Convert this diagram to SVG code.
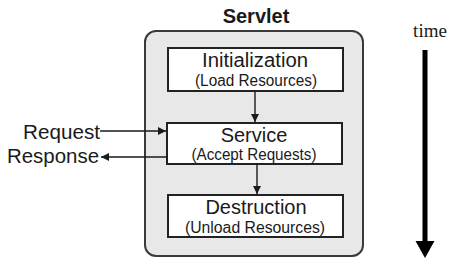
<svg xmlns="http://www.w3.org/2000/svg" width="451" height="273" viewBox="0 0 451 273">
<style>
.box{fill:#fff;stroke:#222;stroke-width:2}
.t{font-family:"Liberation Sans",Arial,sans-serif;fill:#1a1a1a;text-anchor:middle}
.big{font-size:20px}
.small{font-size:16px}
.ln{stroke:#1a1a1a;stroke-width:1.4;fill:none}
</style>
<defs>
<marker id="ah" markerWidth="9" markerHeight="9" refX="8" refY="4.5" orient="auto" markerUnits="userSpaceOnUse">
<path d="M0,0.5 L8,4.5 L0,8.5 Z" fill="#1a1a1a"/>
</marker>
</defs>
<g id="servlet">
<rect x="145" y="31" width="218" height="225" rx="11" fill="#e8e8e8" stroke="#3a3a3a" stroke-width="2"/>
<text class="t" x="256" y="23" font-size="20" font-weight="bold">Servlet</text>
</g>
<g id="init">
<rect class="box" x="168" y="48" width="175" height="43"/>
<text class="t big" x="255" y="67" textLength="106" lengthAdjust="spacingAndGlyphs">Initialization</text>
<text class="t small" x="256" y="86" textLength="122" lengthAdjust="spacingAndGlyphs">(Load Resources)</text>
</g>
<g id="service">
<rect class="box" x="167" y="123" width="175" height="41"/>
<text class="t big" x="254" y="142">Service</text>
<text class="t small" x="254" y="160" textLength="125" lengthAdjust="spacingAndGlyphs">(Accept Requests)</text>
</g>
<g id="destruction">
<rect class="box" x="168" y="195" width="175" height="42"/>
<text class="t big" x="256" y="214">Destruction</text>
<text class="t small" x="255" y="233" textLength="140" lengthAdjust="spacingAndGlyphs">(Unload Resources)</text>
</g>
<g id="request">
<text class="t big" x="61.5" y="139" textLength="77" lengthAdjust="spacingAndGlyphs">Request</text>
</g>
<g id="response">
<text class="t big" x="53" y="163" textLength="92" lengthAdjust="spacingAndGlyphs">Response</text>
</g>
<g id="time">
<text x="430" y="37" font-family="Liberation Serif,serif" font-size="19" text-anchor="middle" fill="#1a1a1a">time</text>
</g>
<g id="connectors">
<line class="ln" x1="255" y1="91" x2="255" y2="122" marker-end="url(#ah)"/>
<line class="ln" x1="257" y1="164" x2="257" y2="194" marker-end="url(#ah)"/>
<line class="ln" x1="100" y1="131" x2="166" y2="131" marker-end="url(#ah)"/>
<line class="ln" x1="167" y1="157" x2="101" y2="157" marker-end="url(#ah)"/>
<line x1="425" y1="50" x2="425" y2="244" stroke="#000" stroke-width="5"/>
<path d="M415.5,241 L434.5,241 L425,258 Z" fill="#000"/>
</g>
</svg>
